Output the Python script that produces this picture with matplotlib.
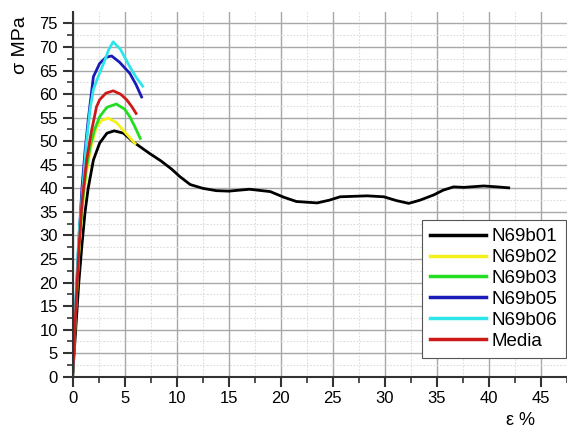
import matplotlib.pyplot as plt
from matplotlib.ticker import MultipleLocator

plt.rcParams["font.family"] = ["Liberation Sans", "DejaVu Sans"]

# strain (%) / stress (MPa)
b01_x = [0, 0.3, 0.6, 0.9, 1.2, 1.5, 2.0, 2.6, 3.3, 4.0, 4.9, 5.8, 7.4, 8.5, 9.5, 10.3, 11.3, 12.5,
         13.8, 15.0, 17.0, 19.0, 20.3, 21.5, 23.5, 24.7, 25.7, 28.3, 29.9, 31.1, 32.3, 33.4,
         34.7, 35.6, 36.6, 37.6, 39.5, 40.8, 41.9]
b01_y = [0, 10, 20, 28, 35, 40, 46, 49.6, 51.7, 52.2, 51.7, 49.9, 47.4, 45.8, 44.1, 42.5, 40.8, 40.0,
         39.5, 39.4, 39.8, 39.3, 38.1, 37.2, 36.9, 37.5, 38.2, 38.4, 38.2, 37.4, 36.8, 37.5,
         38.6, 39.6, 40.3, 40.2, 40.5, 40.3, 40.1]

b02_x = [0, 0.3, 0.6, 0.9, 1.3, 1.8, 2.3, 2.8, 3.4, 4.2, 5.0, 6.0]
b02_y = [0, 14, 26, 35, 43, 49, 53, 54.4, 54.9, 54.0, 52.0, 49.5]

b03_x = [0, 0.3, 0.6, 0.9, 1.3, 1.7, 2.1, 2.6, 3.3, 4.2, 5.0, 5.5, 6.0, 6.5]
b03_y = [0, 14, 27, 36, 44, 49, 52.4, 55.2, 57.2, 57.9, 56.8, 55.2, 53.0, 50.6]

b05_x = [0, 0.3, 0.6, 0.9, 1.2, 1.5, 2.0, 2.6, 3.2, 3.75, 4.5, 5.5, 6.1, 6.63]
b05_y = [0, 15, 29, 40, 48, 54.5, 63.7, 66.5, 67.8, 68.1, 66.8, 64.4, 62.0, 59.4]

b06_x = [0, 0.3, 0.6, 1.02, 1.3, 1.67, 2.0, 2.46, 3.1, 3.5, 3.9, 4.6, 5.5, 6.1, 6.73]
b06_y = [0, 16, 30, 41, 49, 56.6, 61, 63.7, 67.2, 69.6, 71.1, 69.5, 65.8, 63.6, 61.7]

media_x = [0, 0.3, 0.6, 0.9, 1.35, 1.8, 2.3, 2.6, 3.2, 3.9, 4.6, 5.2, 5.7, 6.1]
media_y = [0, 14, 27, 37, 46, 52, 57.3, 58.8, 60.2, 60.7, 60.0, 58.8, 57.3, 55.9]

series = [
    ("N69b01", b01_x, b01_y, "black"),
    ("N69b02", b02_x, b02_y, "#f4f01c"),
    ("N69b03", b03_x, b03_y, "#22dd22"),
    ("N69b05", b05_x, b05_y, "#1a1ab8"),
    ("N69b06", b06_x, b06_y, "#2ee6ea"),
    ("Media", media_x, media_y, "#cc1a1a"),
]

fig = plt.figure(figsize=(5.67, 4.34), dpi=100)
ax = fig.add_axes([0.128, 0.132, 0.872, 0.840])

for name, xs, ys, col in series:
    ax.plot(xs, ys, color=col, lw=2.0, label=name)

ax.set_xlim(0, 47.5)
ax.set_ylim(0, 77.4)
ax.xaxis.set_major_locator(MultipleLocator(5))
ax.xaxis.set_minor_locator(MultipleLocator(2.5))
ax.yaxis.set_major_locator(MultipleLocator(5))
ax.yaxis.set_minor_locator(MultipleLocator(2.5))
ax.set_xticks(range(0, 50, 5))
ax.set_yticks(range(0, 80, 5))

ax.grid(which="major", color="#a8a8a8", lw=1.0)
ax.grid(which="minor", color="#dcdcdc", lw=0.8, ls=(0, (1.5, 1.5)))
ax.set_axisbelow(True)

for s in ("top", "right"):
    ax.spines[s].set_visible(False)
for s in ("left", "bottom"):
    ax.spines[s].set_linewidth(1.5)
    ax.spines[s].set_color("#333333")

ax.tick_params(which="major", direction="out", length=7, width=1.5, labelsize=12, color="#333333")
ax.tick_params(which="minor", direction="out", length=4, width=1.2, color="#333333")

fig.text(0.036, 0.895, "σ MPa", rotation=90, ha="center", va="center", fontsize=14)
fig.text(0.918, 0.03, "ε %", ha="center", va="center", fontsize=13)

leg = ax.legend(loc="lower right", bbox_to_anchor=(0.998, 0.051), borderaxespad=0,
                fontsize=13.5, handlelength=3.0, fancybox=False, framealpha=1,
                edgecolor="#555555", labelspacing=0.2, borderpad=0.45, handletextpad=0.3)
leg.get_frame().set_linewidth(0.8)
for line in leg.get_lines():
    line.set_linewidth(2.5)

fig.savefig("out.png", dpi=100)
